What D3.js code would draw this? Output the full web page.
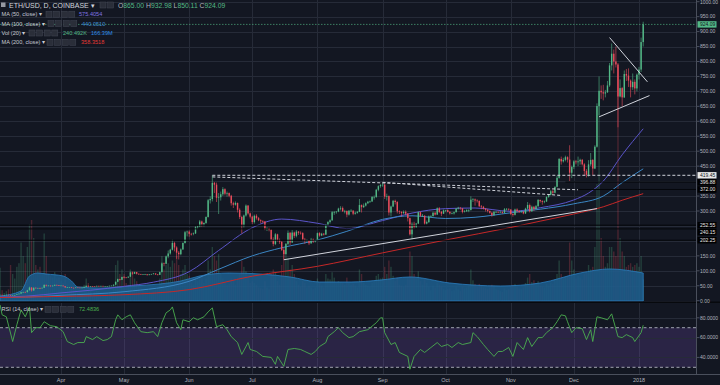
<!DOCTYPE html>
<html>
<head>
<meta charset="utf-8">
<script src="https://cdn.jsdelivr.net/npm/d3@7"></script>
<style>
  html, body { margin: 0; padding: 0; background: #131722; }
  svg { display: block; font-family: "Liberation Sans", Arial, sans-serif; }
</style>
</head>
<body>
<svg id="chart"></svg>
<script>
// ETH/USD daily, Coinbase, 2017-03-03 .. 2018-01-03 (one row per day: open, high, low, close)
const firstDay = "2017-03-03";
const candles = [
  // March
  [18.9,20.4,18.7,19.6],[19.6,19.9,18.5,18.8],[18.8,19.4,18.6,19.2],[19.2,20.0,19.0,19.7],[19.7,19.9,18.2,19.0],
  [19.0,19.2,16.2,16.6],[16.6,18.3,16.4,17.9],[17.9,19.6,17.1,19.2],[19.2,21.9,19.0,21.5],[21.5,23.9,21.2,23.6],
  [23.6,29.0,23.3,28.5],[28.5,30.2,26.9,28.6],[28.6,30.8,27.6,28.4],[28.4,36.5,28.1,35.0],[35.0,47.0,34.2,44.0],
  [44.0,45.5,30.5,34.3],[34.3,44.5,33.2,43.2],[43.2,44.7,40.6,42.3],[42.3,43.5,40.8,42.5],[42.5,43.9,38.7,41.4],
  [41.4,43.8,40.5,43.2],[43.2,54.0,42.7,53.0],[53.0,53.6,47.1,50.3],[50.3,51.6,48.6,50.5],[50.5,50.9,46.8,49.2],
  [49.2,51.2,47.9,50.2],[50.2,53.9,49.8,52.9],[52.9,53.5,50.6,52.0],[52.0,52.3,49.0,49.6],
  // April
  [49.6,51.3,49.2,50.6],[50.6,51.0,47.4,48.5],[48.5,48.8,43.6,44.3],[44.3,45.8,43.3,44.6],[44.6,45.7,43.7,45.0],
  [45.0,45.4,42.2,43.2],[43.2,43.6,41.6,42.4],[42.4,44.8,42.1,44.2],[44.2,44.5,42.9,43.6],[43.6,44.0,42.8,43.5],
  [43.5,44.3,42.9,43.6],[43.6,46.6,43.4,46.1],[46.1,50.6,45.7,49.9],[49.9,50.3,46.9,47.6],[47.6,48.8,47.0,48.3],
  [48.3,48.7,47.3,48.0],[48.0,48.4,47.2,47.9],[47.9,50.2,47.6,49.6],[49.6,49.9,47.5,48.1],[48.1,50.0,47.8,49.5],
  [49.5,49.8,47.9,48.4],[48.4,48.9,47.6,48.5],[48.5,49.3,48.1,48.8],[48.8,50.2,48.5,49.9],[49.9,50.9,49.5,50.4],
  [50.4,54.0,50.1,53.5],[53.5,64.0,53.2,63.3],[63.3,73.6,62.1,72.1],[72.1,73.0,67.5,69.9],[69.9,80.2,69.4,79.4],
  // May
  [79.4,82.0,75.0,77.5],[77.5,79.2,75.6,77.3],[77.3,81.0,76.7,80.3],[80.3,97.0,79.8,94.5],[94.5,97.5,87.0,90.2],
  [90.2,97.0,89.6,95.6],[95.6,96.5,87.5,90.1],[90.1,91.0,86.2,88.4],[88.4,89.8,86.1,88.0],[88.0,89.3,86.8,88.3],
  [88.3,89.6,86.7,88.6],[88.6,89.1,83.5,86.3],[86.3,89.0,84.8,88.3],[88.3,90.0,87.6,89.0],[89.0,92.0,87.9,91.1],
  [91.1,91.6,86.3,87.7],[87.7,89.0,85.0,86.5],[86.5,97.0,86.0,95.6],[95.6,128,95.0,124.8],[124.8,127.5,115,123.5],
  [123.5,151,122,148.3],[148.3,168,142,158],[158,173.5,154,170.5],[170.5,204,168,193],[193,197,165,178],
  [178,182,140,160.5],[160.5,166,138,155.5],[155.5,175,152,171.5],[171.5,195,170,193],[193,233,191,229],
  [229,234.5,215,231],
  // June
  [231,235,214,223.5],[223.5,227,218,223],[223,228,219,225],[225,249,223,246],[246,251,239,248.5],
  [248.5,270,246,265],[265,268,247,255],[255,262,248,260],[260,282,257,280],[280,340,278,336],
  [336,349,325,340],[340,419.5,332,394],[394,397,360,388],[388,395,330,344],[344,360,290,346],
  [346,365,335,356],[356,380,350,373],[373,376,352,358],[358,365,348,360],[360,362,346,351],
  [351,354,318,326],[326,331,310,321],[321,332,318,327],[327,328,295,304],[304,309,273,280],
  [280,284,225,252],[252,288,245,285],[285,322,281,318],[318,320,288,292],[292,295,275,281],
  // July
  [281,284,256,263],[263,288,258,284],[284,289,271,276],[276,280,266,269],[269,272,259,266],
  [266,269,260,265],[265,266,236,240],[240,246,233,242],[242,244,232,237],[237,239,198,205],
  [205,212,182,190],[190,226,186,222],[222,224,198,203],[203,208,190,197],[197,199,166,170],
  [170,177,137,156],[156,193,154,190],[190,235,185,227],[227,230,186,195],[195,236,193,228],
  [228,231,210,217],[217,236,212,231],[231,233,220,227],[227,232,221,226],[226,229,200,205],
  [205,210,190,201],[201,206,197,202],[202,203,186,192],[192,210,190,205],[205,208,193,198],
  [198,204,195,202],
  // August
  [202,228,200,226],[226,229,214,218],[218,227,216,224],[224,226,218,221],[221,256,220,254],
  [254,266,250,263],[263,272,258,269],[269,300,267,296],[296,300,287,296],[296,300,291,298],
  [298,311,296,308],[308,316,302,310],[310,315,297,299],[299,304,292,300],[300,302,279,288],
  [288,303,285,301],[301,306,297,301],[301,303,286,291],[291,298,288,294],[294,300,291,297],
  [297,340,296,320],[320,322,295,313],[313,325,310,318],[318,329,315,326],[326,334,323,331],
  [331,335,327,332],[332,350,330,347],[347,352,338,347],[347,374,344,371],[371,386,366,383],
  [383,390,378,387],
  // September
  [387,394,381,388],[388,392,340,348],[348,358,335,350],[350,352,285,295],[295,318,282,315],
  [315,337,313,334],[334,338,322,330],[330,333,292,299],[299,302,290,297],[297,299,281,293],
  [293,302,290,297],[297,302,286,291],[291,293,265,276],[276,278,218,222],[222,262,205,257],
  [257,264,240,247],[247,260,243,258],[258,298,256,296],[296,298,280,284],[284,290,280,284],
  [284,286,254,258],[258,268,255,263],[263,285,260,282],[282,286,279,283],[283,298,281,294],
  [294,298,285,288],[288,312,287,309],[309,313,293,297],[297,300,283,291],[291,305,290,302],
  // October
  [302,304,296,303],[303,306,295,297],[297,299,288,292],[292,295,289,292],[292,298,288,296],
  [296,310,295,308],[308,314,305,311],[311,313,304,309],[309,310,292,297],[297,303,295,299],
  [299,306,297,303],[303,306,296,303],[303,349,302,338],[338,343,330,339],[339,342,318,335],
  [335,339,328,334],[334,335,313,316],[316,320,306,314],[314,317,305,308],[308,310,298,304],
  [304,307,295,300],[300,302,291,294],[294,297,281,286],[286,300,284,297],[297,300,293,297],
  [297,299,293,296],[296,300,294,297],[297,299,291,294],[294,310,292,306],[306,310,302,307],
  [307,309,301,305],
  // November
  [305,306,286,290],[290,293,281,287],[287,308,285,305],[305,309,295,300],[300,303,294,296],
  [296,302,294,298],[298,300,289,292],[292,311,290,308],[308,330,305,320],[320,325,295,299],
  [299,318,297,314],[314,317,300,307],[307,320,305,316],[316,340,314,337],[337,338,328,333],
  [333,336,321,330],[330,335,326,332],[332,349,330,347],[347,356,344,354],[354,370,352,366],
  [366,372,354,361],[361,382,359,381],[381,418,379,411],[411,477,408,474],[474,482,455,466],
  [466,478,462,471],[471,485,466,480],[480,483,462,472],[472,520,400,428],[428,452,410,447],
  // December
  [447,470,440,466],[466,471,456,463],[463,482,450,466],[466,475,455,471],[471,474,452,456],
  [456,460,420,434],[434,440,412,421],[421,470,415,456],[456,494,450,471],[471,473,420,442],
  [442,520,440,515],[515,660,512,651],[651,750,620,702],[702,720,675,697],[697,722,670,693],
  [693,705,680,697],[697,735,695,720],[720,795,715,787],[787,860,770,826],[826,840,760,800],
  [800,850,780,790],[790,795,580,683],[683,740,680,711],[711,715,650,680],[680,770,678,758],
  [758,775,735,753],[753,777,715,736],[736,740,680,714],[714,760,705,732],[732,740,690,710],
  [710,760,700,756],
  // January 2018
  [756,782,740,773],[773,880,765,865],[865,932.98,850.11,924.09]
];

// daily volume, thousands of ETH
const volumeK = [
  370,120,90,110,130,400,300,250,380,420,650,500,420,600,850,900,700,400,350,380,300,750,500,300,280,260,320,250,260,
  220,200,300,180,150,160,150,120,90,100,110,180,250,200,120,90,100,130,110,100,90,80,70,90,100,180,400,450,300,350,
  300,200,180,350,300,250,220,180,150,120,110,130,100,90,110,120,130,250,500,350,400,420,380,450,420,500,400,300,350,400,300,
  280,200,180,250,220,280,260,200,250,450,350,600,500,450,520,300,250,200,180,190,250,220,180,250,300,450,380,330,260,200,
  220,200,180,150,140,130,220,150,130,300,350,320,220,180,400,550,520,480,350,400,300,220,180,160,220,200,150,170,150,130,150,
  250,200,170,150,300,250,240,320,260,200,220,210,200,180,260,200,180,190,170,150,350,300,200,180,170,160,200,220,280,300,250,
  260,380,300,450,380,280,220,260,180,170,160,180,260,550,500,300,250,330,220,180,250,200,160,120,170,150,200,180,160,130,
  120,130,140,110,120,160,130,110,160,140,150,170,350,230,190,160,190,170,150,140,130,150,180,170,130,120,110,100,140,120,130,
  170,180,190,160,140,130,150,200,260,300,210,230,200,220,170,160,150,190,170,200,190,240,300,450,300,250,270,280,650,450,
  350,250,280,260,240,300,320,400,350,380,600,1300,2250,700,500,380,420,600,600,550,500,2600,700,550,500,380,400,420,380,400,420,
  380,500,240.5
];

// Vol (20) band, thousands
const volMA = [
  ["2017-03-03",55],["2017-03-13",111],["2017-03-17",278],["2017-03-21",311],["2017-03-25",300],["2017-04-02",278],
  ["2017-04-06",222],["2017-04-09",155],["2017-04-20",144],["2017-05-05",167],["2017-05-18",189],["2017-05-28",222],
  ["2017-06-06",278],["2017-06-20",311],["2017-07-05",300],["2017-07-19",267],["2017-08-02",211],["2017-08-17",211],
  ["2017-08-31",233],["2017-09-14",267],["2017-10-03",200],["2017-10-27",167],["2017-11-15",200],["2017-12-04",311],
  ["2017-12-18",356],["2018-01-03",311]
];

const ma50 = [
  ["2017-03-03",12.5],["2017-03-15",15],["2017-04-01",26],["2017-04-15",35],["2017-05-01",48],["2017-05-15",62],
  ["2017-06-01",97],["2017-06-15",168],["2017-07-01",244],["2017-07-15",273],["2017-08-01",259],["2017-08-15",241],
  ["2017-09-01",268],["2017-09-15",293],["2017-10-01",308],["2017-10-15",310],["2017-11-01",299],["2017-11-15",311],
  ["2017-12-01",337],["2017-12-08",360],["2017-12-15",400],["2017-12-24",488],["2018-01-03",575]
];
const ma100 = [
  ["2017-03-03",10.5],["2017-03-15",12],["2017-04-01",18],["2017-05-01",30],["2017-06-01",65],["2017-06-15",105],
  ["2017-07-01",150],["2017-07-15",177],["2017-08-01",203],["2017-08-15",232],["2017-09-01",272],["2017-09-15",284],
  ["2017-10-01",275],["2017-10-15",279],["2017-11-01",294],["2017-11-15",306],["2017-12-01",324],["2017-12-15",350],
  ["2017-12-24",395],["2018-01-03",441]
];
const ma200 = [
  ["2017-03-03",10.6],["2017-04-01",14.3],["2017-05-01",20],["2017-06-01",37],["2017-07-01",82],["2017-08-01",115],
  ["2017-09-01",160],["2017-10-01",203],["2017-11-01",245],["2017-11-15",266],["2017-12-01",290],["2017-12-15",314],
  ["2017-12-24",336],["2018-01-03",358]
];

// RSI (14): bar number (days after firstDay) and value
const rsiDay = [0,1,3,6,8,10,12,14,15,17,19,21,24,27,30,32,35,37,40,41,44,46,49,51,53,55,56,58,60,62,64,67,70,73,75,77,79,81,82,84,86,87,90,92,94,97,99,101,103,106,108,110,113,115,118,119,122,125,129,131,132,135,137,140,143,145,148,150,152,155,156,159,161,163,166,168,171,175,179,181,182,183,186,188,190,194,195,197,200,202,205,208,210,213,215,218,220,224,225,227,230,232,235,237,239,242,244,246,249,251,253,256,258,260,263,265,267,269,270,272,274,277,279,281,282,284,286,289,291,294,296,298,301,302,305,306];
const rsiValue = [93,83,81,56,73,88,81,91,65,70,70,76,72,71,66,56,53,55,55,61,58,61,57,58,61,78,83,78,81,83,75,66,65,66,61,75,85,88,91,75,68,78,76,80,78,81,86,90,71,73,68,61,55,43,55,48,46,41,40,33,41,31,48,49,48,46,43,46,51,55,61,66,70,65,60,61,66,68,75,80,80,65,53,55,45,41,28,41,48,45,50,55,51,53,50,55,53,55,65,61,53,48,41,46,46,50,41,55,48,60,51,60,60,65,70,76,83,82,76,65,70,69,58,68,56,81,80,78,84,61,60,63,60,56,65,72.48];

const monthTicks = [
  ["2017-04-01","Apr"],["2017-05-01","May"],["2017-06-01","Jun"],["2017-07-01","Jul"],["2017-08-01","Aug"],
  ["2017-09-01","Sep"],["2017-10-01","Oct"],["2017-11-01","Nov"],["2017-12-01","Dec"],["2018-01-01","2018"]
];
const priceTicks = d3.range(0, 1001, 50);
const rsiTicks = [80, 60, 40];

// drawings on the chart
const trendLines = [
  { a: ["2017-07-16", 137], b: ["2017-12-12", 308] },
  { a: ["2017-12-18", 880], b: ["2018-01-05", 732] },
  { a: ["2017-12-13", 615], b: ["2018-01-06", 686] }
];
const dashedLines = [
  { a: ["2017-06-12", 414], b: ["2017-12-03", 371] },
  { a: ["2017-09-01", 396], b: ["2017-11-25", 352] }
];
const levelLines = [
  { v: 419.45, from: "2017-06-12", kind: "white" },
  { v: 396.88, from: "2017-11-27", kind: "black" },
  { v: 372.00, from: "2017-12-03", kind: "black" },
  { v: 252.55, from: "2017-03-03", kind: "black" },
  { v: 240.15, from: "2017-03-03", kind: "black" },
  { v: 202.25, from: "2017-03-03", kind: "black" }
];
const lastPrice = 924.09;

// ---------------------------------------------------------------
const W = 720, H = 385;
const paneRight = 696.5;
const priceBottom = 302, rsiTop = 303, rsiBottom = 374;
const bg = "#131722", grid = "#262b38", axisText = "#b2b5be";
const up = "#53b987", down = "#eb4d5c";

const parse = d3.utcParse("%Y-%m-%d");
const day0 = parse(firstDay);
const dayDate = i => d3.utcDay.offset(day0, i);

const x = d3.scaleUtc().domain([day0, parse("2018-01-01")]).range([0.05, 639]);
const y = d3.scaleLinear().domain([0, 1000]).range([300.7, 1.7]);
const yVol = d3.scaleLinear().domain([0, 3000]).range([301, 31]);
const yRsi = d3.scaleLinear().domain([30, 70]).range([367.3, 327.7]);

const svg = d3.select("#chart").attr("width", W).attr("height", H);
svg.append("rect").attr("width", W).attr("height", H).attr("fill", bg);

const defs = svg.append("defs");
defs.append("clipPath").attr("id", "clipPrice")
  .append("rect").attr("x", 0).attr("y", 0).attr("width", paneRight).attr("height", priceBottom);
defs.append("clipPath").attr("id", "clipRsi")
  .append("rect").attr("x", 0).attr("y", rsiTop).attr("width", paneRight).attr("height", rsiBottom - rsiTop);

// grid
const gGrid = svg.append("g").attr("stroke", grid).attr("stroke-width", 1);
gGrid.selectAll("line.v").data(monthTicks).join("line")
  .attr("x1", d => Math.round(x(parse(d[0]))) + 0.5).attr("x2", d => Math.round(x(parse(d[0]))) + 0.5)
  .attr("y1", 0).attr("y2", rsiBottom);
gGrid.selectAll("line.h").data(priceTicks).join("line")
  .attr("x1", 0).attr("x2", paneRight)
  .attr("y1", d => Math.round(y(d)) + 0.5).attr("y2", d => Math.round(y(d)) + 0.5);

// ---- price pane
const price = svg.append("g").attr("clip-path", "url(#clipPrice)");

// volume bars, then the Vol (20) band over them
price.append("g").selectAll("rect").data(candles).join("rect")
  .attr("x", (d, i) => x(dayDate(i)) - 0.7)
  .attr("width", 1.4)
  .attr("y", (d, i) => yVol(volumeK[i]))
  .attr("height", (d, i) => yVol(0) - yVol(volumeK[i]))
  .attr("fill", d => d[3] >= d[0] ? up : down)
  .attr("fill-opacity", 0.25);

price.append("path")
  .datum(volMA)
  .attr("fill", "#1d5b8a").attr("fill-opacity", 0.9)
  .attr("stroke", "#2b7fc0").attr("stroke-width", 0.8)
  .attr("d", d3.area().curve(d3.curveMonotoneX)
    .x(d => x(parse(d[0]))).y0(yVol(0)).y1(d => yVol(d[1])));

// moving averages
const maLine = d3.line().curve(d3.curveMonotoneX).x(d => x(parse(d[0]))).y(d => y(d[1]));
[[ma50, "#5b55c9"], [ma100, "#3b86c4"], [ma200, "#c62828"]].forEach(([data, color]) => {
  price.append("path").datum(data).attr("fill", "none")
    .attr("stroke", color).attr("stroke-width", 1).attr("d", maLine);
});

// candles
const gCandles = price.append("g");
gCandles.selectAll("line").data(candles).join("line")
  .attr("x1", (d, i) => x(dayDate(i))).attr("x2", (d, i) => x(dayDate(i)))
  .attr("y1", d => y(d[1])).attr("y2", d => y(d[2]))
  .attr("stroke", d => d[3] >= d[0] ? up : down).attr("stroke-width", 0.6);
gCandles.selectAll("rect").data(candles).join("rect")
  .attr("x", (d, i) => x(dayDate(i)) - 0.7)
  .attr("width", 1.4)
  .attr("y", d => y(Math.max(d[0], d[3])))
  .attr("height", d => Math.max(0.6, Math.abs(y(d[0]) - y(d[3]))))
  .attr("fill", d => d[3] >= d[0] ? up : down);

// level lines
levelLines.forEach(l => {
  price.append("line")
    .attr("x1", x(parse(l.from))).attr("x2", paneRight)
    .attr("y1", y(l.v)).attr("y2", y(l.v))
    .attr("stroke", l.kind === "white" ? "#d1d4dc" : "#05070b")
    .attr("stroke-width", 1)
    .attr("stroke-dasharray", l.kind === "white" ? "3,2" : null);
});
// last price line
price.append("line")
  .attr("x1", 0).attr("x2", paneRight).attr("y1", y(lastPrice)).attr("y2", y(lastPrice))
  .attr("stroke", up).attr("stroke-width", 0.8).attr("stroke-dasharray", "1.5,1.5").attr("opacity", 0.8);

// trend lines
const seg = (g, t, dash) => g.append("line")
  .attr("x1", x(parse(t.a[0]))).attr("y1", y(t.a[1]))
  .attr("x2", x(parse(t.b[0]))).attr("y2", y(t.b[1]))
  .attr("stroke", "#d1d4dc").attr("stroke-width", 1)
  .attr("stroke-dasharray", dash);
trendLines.forEach(t => seg(price, t, null));
dashedLines.forEach(t => seg(price, t, "3,2"));

// ---- RSI pane
svg.append("rect").attr("x", 0).attr("y", 301.5).attr("width", W).attr("height", 1.5).attr("fill", "#07090d");
const rsi = svg.append("g").attr("clip-path", "url(#clipRsi)");
rsi.append("rect").attr("x", 0).attr("width", paneRight)
  .attr("y", yRsi(70)).attr("height", yRsi(30) - yRsi(70))
  .attr("fill", "#7e57c2").attr("fill-opacity", 0.22);
rsi.selectAll("line.g").data(rsiTicks).join("line")
  .attr("x1", 0).attr("x2", paneRight)
  .attr("y1", d => Math.round(yRsi(d)) + 0.5).attr("y2", d => Math.round(yRsi(d)) + 0.5)
  .attr("stroke", grid);
[70, 30].forEach(v => rsi.append("line")
  .attr("x1", 0).attr("x2", paneRight).attr("y1", yRsi(v)).attr("y2", yRsi(v))
  .attr("stroke", "#c3c6d0").attr("stroke-width", 0.8).attr("stroke-dasharray", "3,2.5"));
rsi.append("path")
  .datum(rsiDay.map((d, i) => [d, rsiValue[i]]))
  .attr("fill", "none").attr("stroke", "#4caf50").attr("stroke-width", 0.9)
  .attr("d", d3.line().x(d => x(dayDate(d[0]))).y(d => yRsi(d[1])));

// ---- axes
svg.append("line").attr("x1", paneRight).attr("x2", paneRight).attr("y1", 0).attr("y2", rsiBottom)
  .attr("stroke", "#4a4f5c");
svg.append("line").attr("x1", 0).attr("x2", W).attr("y1", rsiBottom + 0.5).attr("y2", rsiBottom + 0.5)
  .attr("stroke", "#4a4f5c");

// price marker labels, pushed apart when they collide
const markers = [
  { v: lastPrice, fill: up, color: "#131722" },
  { v: 419.45, fill: "#e8e8e8", color: "#131722" },
  { v: 396.88, fill: "#000", color: "#e8e8e8" },
  { v: 372.00, fill: "#000", color: "#e8e8e8" },
  { v: 252.55, fill: "#000", color: "#e8e8e8" },
  { v: 240.15, fill: "#000", color: "#e8e8e8" },
  { v: 202.25, fill: "#000", color: "#e8e8e8" }
].map(m => ({ ...m, pos: y(m.v) })).sort((a, b) => a.pos - b.pos);
for (let i = 1; i < markers.length; i++) {
  if (markers[i].pos - markers[i - 1].pos < 7) markers[i].pos = markers[i - 1].pos + 7;
}

const fmt = d3.format(".2f");
const yAxis = svg.append("g").attr("font-size", 5).attr("fill", axisText);
priceTicks.filter(t => markers.every(m => Math.abs(m.pos - y(t)) > 6)).forEach(t => {
  yAxis.append("line").attr("x1", paneRight).attr("x2", paneRight + 3)
    .attr("y1", y(t)).attr("y2", y(t)).attr("stroke", "#4a4f5c");
  yAxis.append("text").attr("x", 700).attr("y", y(t) + 1.8).text(fmt(t));
});
markers.forEach(m => {
  yAxis.append("rect").attr("x", 697.5).attr("y", m.pos - 3.2).attr("width", 19).attr("height", 6.4)
    .attr("fill", m.fill);
  yAxis.append("text").attr("x", 700).attr("y", m.pos + 1.8).attr("fill", m.color).text(fmt(m.v));
});
rsiTicks.forEach(t => {
  yAxis.append("line").attr("x1", paneRight).attr("x2", paneRight + 3)
    .attr("y1", yRsi(t)).attr("y2", yRsi(t)).attr("stroke", "#4a4f5c");
  yAxis.append("text").attr("x", 700).attr("y", yRsi(t) + 1.8).text(d3.format(".4f")(t));
});

svg.append("g").attr("font-size", 5.5).attr("fill", axisText).attr("text-anchor", "middle")
  .selectAll("text").data(monthTicks).join("text")
  .attr("x", d => x(parse(d[0]))).attr("y", 382).text(d => d[1]);

// ---- legends
const legend = svg.append("g");
function icons(g, x0, yc, n) {
  for (let k = 0; k < n; k++) {
    g.append("rect").attr("x", x0 + k * 7.6).attr("y", yc - 3).attr("width", 6).attr("height", 6)
      .attr("fill", "#2a2e39").attr("stroke", "#434755").attr("stroke-width", 0.5);
  }
}
legend.append("rect").attr("x", 1).attr("y", 2.5).attr("width", 4.5).attr("height", 4.5).attr("fill", "#9598a1");
legend.append("text").attr("x", 9).attr("y", 7.6).attr("font-size", 7).attr("fill", "#d1d4dc")
  .text("ETH/USD, D, COINBASE \u25BE");
icons(legend, 100, 5, 2);
const ohlc = legend.append("text").attr("x", 118).attr("y", 7.6).attr("font-size", 6.8);
const lastBar = candles[candles.length - 1];
["O", "H", "L", "C"].forEach((k, i) => {
  ohlc.append("tspan").attr("fill", "#b2b5be").text((i ? " " : "") + k);
  ohlc.append("tspan").attr("fill", up).text(fmt(lastBar[i]));
});

const rows = [
  { yc: 14.2, label: "MA (50, close) \u25BE", ix: 46, vx: 79, vals: [["575.4054", "#7f72e0"]] },
  { yc: 23.6, label: "MA (100, close) \u25BE", ix: 48, vx: 82, vals: [["440.0510", "#3f8fd4"]] },
  { yc: 33.0, label: "Vol (20) \u25BE", ix: 29, vx: 63, vals: [["240.492K", up], ["166.39M", "#2e8ee6"]] },
  { yc: 42.4, label: "MA (200, close) \u25BE", ix: 47, vx: 81, vals: [["358.3518", "#e53935"]] },
  { yc: 309.3, label: "RSI (14, close) \u25BE", ix: 45, vx: 79, vals: [["72.4836", "#4caf50"]] }
];
rows.forEach(r => {
  legend.append("text").attr("x", 1.5).attr("y", r.yc + 2).attr("font-size", 5.6).attr("fill", "#c8cad2").text(r.label);
  icons(legend, r.ix, r.yc, 4);
  let vx = r.vx;
  r.vals.forEach(([t, c]) => {
    const el = legend.append("text").attr("x", vx).attr("y", r.yc + 2).attr("font-size", 5.6).attr("fill", c).text(t);
    vx += el.node().getComputedTextLength() + 4;
  });
});
</script>
</body>
</html>
